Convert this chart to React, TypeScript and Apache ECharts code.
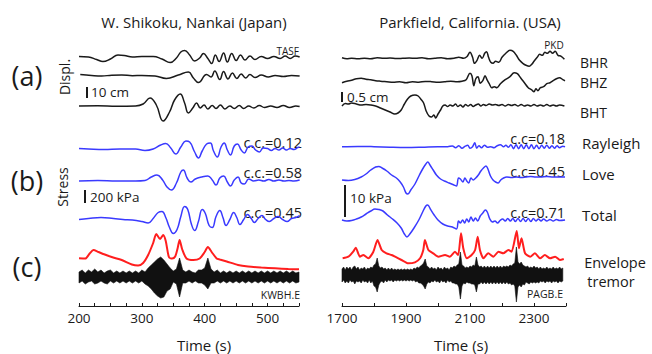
import React, { useEffect, useRef } from 'react';
import * as echarts from 'echarts';

type P = [number, number];

// ---------- axis ticks ----------
const leftTickLabels = [200, 300, 400, 500];
const rightTickLabels = [1700, 1900, 2100, 2300];

// ---------- W. Shikoku (left) : displacement ----------
const tasf: P[] = [[200,0.5],[215,0],[228,-2.5],[238,-4.5],[250,-2],[262,2],[272,1.5],[285,0],[300,0.5],[318,0.5],[332,-2],[345,-5.5],[355,-1],[362,5],[368,6.5],[376,2],[384,-4],[392,-1],[398,3.5],[405,-1.5],[411,-6.5],[417,2],[423,-4.5],[430,4],[436,-5],[443,3.5],[450,-3.5],[457,2],[464,-3],[472,1],[480,-2.5],[490,0.5],[500,-1.5],[510,0.5],[520,-1.5],[528,1],[536,-1.5],[544,1],[551,0]];
const shikokuA2: P[] = [[202,1.5],[220,0.5],[236,0],[252,0.8],[268,1],[285,0.3],[300,0.5],[321,0],[339,-2.5],[358,1],[374,4],[382,-2],[390,-6.5],[403,1.5],[410,-1],[416,5],[424,-3.5],[430,4.5],[437,-3],[444,3],[451,-2.5],[458,2],[465,-2],[472,1.5],[480,-1.5],[490,1],[501,-1],[512,0.5],[525,-0.5],[538,0.5],[551,0]];
const shikokuA3: P[] = [[200,0],[230,0.3],[260,-0.3],[290,0],[302,2],[313,8],[323,1],[334,-15],[344,-6],[352,6],[361,12],[368,3],[374,-7],[381,-2],[387,3],[393,-2],[399,1],[405,-3],[412,0.5],[418,-2.5],[425,1],[432,-3],[440,0],[447,-2.5],[455,0.5],[462,-2.5],[470,0],[478,-2],[487,0.5],[495,-1.5],[505,0],[515,-1.5],[525,0.5],[535,-1.5],[545,0],[551,-0.5]];

// ---------- W. Shikoku : stress ----------
const shikokuRayleigh: P[] = [[200,0.5],[215,0],[240,-0.5],[265,0],[290,0],[305,-1.5],[318,0],[330,4],[338,5.5],[346,1],[354,-5],[362,2],[370,8],[376,7],[384,-3],[390,-9],[396,-2],[403,5],[409,6],[414,-2],[420,-8],[426,2],[431,6],[436,-1],[441,-6],[447,3],[452,5],[458,-1],[463,-4],[469,2],[475,3],[481,-1],[487,-3],[493,1],[500,0.5],[506,-1.5],[512,0.5],[518,-1],[524,1],[530,-1],[536,0.5],[542,-0.5],[548,1.5],[551,2]];
const shikokuLove: P[] = [[200,0],[230,0.5],[260,0],[290,0],[305,0.5],[315,4],[324,6],[333,1],[340,-6],[347,-9],[355,-2],[362,9],[366,11],[372,3],[378,-1],[385,2],[395,4],[405,5],[412,1],[418,-4],[424,3],[430,5],[436,-1],[441,-5],[447,1],[453,4],[458,-2],[463,-3],[470,2],[478,0],[486,1],[494,0],[502,1.5],[510,0],[518,1],[526,0],[534,0.5],[542,0],[551,1]];
const shikokuTotal: P[] = [[200,0],[215,1],[235,2],[255,1],[270,0],[285,-0.5],[300,-2],[310,-3.5],[318,1],[326,7],[332,8],[338,2],[344,-8],[350,-14],[356,-10],[362,3],[368,13],[373,10],[379,-5],[384,-11],[390,-2],[396,10],[401,6],[407,-6],[412,-8],[418,3],[424,9],[429,2],[434,-6],[440,0],[446,7],[451,2],[456,-5],[462,0],[468,5],[474,1],[479,-3],[485,1],[491,4],[497,0],[503,-2],[510,1],[517,3],[524,0],[531,-2],[538,1],[545,2],[551,4]];

// ---------- W. Shikoku : envelope & tremor ----------
const shikokuEnvelope: P[] = [[200,11.7],[210,11.5],[217,16.5],[223,20],[231,18],[241,15.5],[252,13],[268,10],[284,5.5],[294,4.5],[302,7],[310,15],[318,27],[323,36],[329,31],[334,35],[338,29],[343,13],[348,11.5],[353,13.5],[357,22],[360,30],[364,21],[371,11.5],[382,10],[392,11.5],[400,18],[405,23],[411,18],[419,11.5],[424,10.5],[435,8.5],[453,5],[469,3.5],[490,2.5],[512,1.7],[533,1],[550,0.7]];
// [time, half-width above, half-width below]
const shikokuTremor: [number, number, number][] = [[200,5,6],[205,7,4],[210,4,7],[215,7,5],[220,5,4],[225,8,7],[230,5,6],[235,7,4],[240,4,6],[245,6,7],[250,7,4],[255,4,6],[260,6,4],[265,4,6],[270,6,4],[275,4,6],[280,6,4],[285,4,6],[290,6,4],[295,4,6],[300,7,4],[305,5,7],[310,9,9],[315,12,12],[320,15,16],[325,18,19],[330,20,21],[335,17,20],[340,13,14],[345,9,12],[350,6,5],[355,8,7],[360,19,20],[365,7,6],[370,5,6],[375,7,4],[380,5,6],[385,4,4],[390,7,6],[395,7,6],[400,9,8],[405,19,12],[410,8,6],[415,5,6],[420,7,4],[425,4,6],[430,6,4],[435,4,6],[440,6,4],[445,4,6],[450,6,4],[455,4,6],[460,6,4],[465,4,6],[470,6,4],[475,4,6],[480,6,4],[485,4,6],[490,6,4],[495,4,6],[500,6,4],[505,4,6],[510,6,4],[515,4,6],[520,6,4],[525,4,6],[530,6,4],[535,4,6],[540,6,4],[545,4,6],[550,5,5]];

// ---------- Parkfield (right) : displacement ----------
const bhr: P[] = [[1700,0.5],[1715,-0.5],[1730,0],[1750,-0.5],[1770,0],[1790,-0.5],[1810,0.5],[1830,0],[1850,0.3],[1870,-0.3],[1890,0],[1910,0.3],[1930,0],[1950,0.5],[1970,-0.5],[1990,0],[2010,0.5],[2030,-0.5],[2050,0],[2065,1],[2080,0],[2090,1.5],[2100,6],[2108,1],[2114,-5],[2122,-2],[2130,3],[2138,0],[2146,5],[2152,6.5],[2158,1],[2165,-4],[2172,-5],[2180,-3],[2190,-4],[2200,1],[2212,5],[2225,8],[2235,7],[2245,3],[2255,-2],[2265,-5],[2275,-7],[2285,-8],[2293,-6],[2300,-3],[2310,1],[2318,4],[2326,3],[2334,6],[2342,5],[2350,7],[2358,5],[2366,7],[2375,3],[2385,2],[2395,-1]];
const bhz: P[] = [[1700,-1],[1715,0.5],[1730,1.5],[1745,3],[1760,3.5],[1775,2.5],[1790,2],[1805,1],[1820,0.5],[1840,0],[1860,-0.5],[1880,0],[1900,-1],[1920,0],[1940,-0.5],[1960,0.3],[1980,0],[2000,-0.5],[2020,0],[2040,0.5],[2060,0],[2075,0.5],[2088,2],[2100,8.5],[2106,6],[2112,-4],[2118,3],[2125,5],[2132,-1.5],[2140,1],[2147,6],[2153,2],[2160,-2],[2168,-6],[2176,-5],[2184,-6],[2195,-2],[2210,2],[2225,5],[2238,9],[2248,8],[2258,4],[2270,-1],[2282,-6],[2292,-8],[2300,-10],[2306,-7],[2312,-9],[2320,-6],[2330,-5],[2340,-2],[2350,-1],[2360,1],[2370,3],[2380,4],[2390,2],[2397,1]];
const bht: P[] = [[1700,-1],[1710,1.5],[1720,1],[1730,2],[1745,1],[1760,0],[1775,0.5],[1790,0],[1805,-1],[1820,-3],[1835,-5],[1850,-7],[1865,-9],[1875,-8],[1885,-5],[1895,1],[1905,6],[1915,9],[1928,10],[1938,9],[1946,6],[1955,2],[1963,-6],[1972,-11],[1980,-12],[1987,-10],[1993,-13],[2000,-9],[2008,-5],[2015,-1],[2022,0],[2030,-1.5],[2038,0],[2046,-1],[2055,1],[2062,-1.5],[2070,0],[2078,-2],[2086,0.5],[2094,-1],[2102,0.5],[2110,-1.5],[2118,0],[2126,1],[2134,-1],[2142,0.5],[2150,-0.5],[2160,1],[2170,0],[2180,0.5],[2190,-0.5],[2200,0.5],[2210,-1],[2220,0.5],[2230,-0.5],[2240,0.5],[2250,-1],[2260,0.5],[2270,-1],[2280,0],[2290,-1],[2300,0.5],[2310,-1],[2320,0],[2330,-1],[2340,0.5],[2350,-1],[2360,0],[2370,-1],[2380,0],[2395,-1]];

// ---------- Parkfield : stress ----------
const parkRayleigh: P[] = [[1700,0],[1750,0.3],[1800,0],[1850,-0.5],[1900,-0.8],[1950,-0.5],[2000,0],[2030,0],[2045,0.8],[2055,-1],[2065,1],[2075,-1.5],[2085,0.5],[2093,1.5],[2100,-1.5],[2108,0],[2115,4],[2121,-1.5],[2128,1],[2136,-1],[2145,1.5],[2155,-0.5],[2165,0],[2175,-1],[2185,1],[2195,2],[2205,0],[2212,1.5],[2220,-0.5],[2228,2],[2236,-2],[2244,2],[2252,-2],[2260,2],[2268,-2],[2276,2],[2284,-2],[2292,2],[2300,-2],[2308,1.5],[2316,-2],[2324,1.5],[2332,-1.5],[2340,1.5],[2348,-1.5],[2356,1],[2364,-1.5],[2372,1],[2380,-1],[2390,0.5],[2397,0]];
const parkLove: P[] = [[1700,-3],[1720,-3.5],[1740,-2.5],[1760,0],[1775,3],[1790,7],[1805,10],[1815,10.5],[1825,9],[1840,6],[1855,2],[1870,-1],[1882,-5],[1892,-10],[1900,-16],[1906,-17],[1915,-13],[1928,-7],[1942,2],[1952,8],[1962,13],[1968,15],[1975,12],[1985,7],[1995,2],[2008,-2],[2020,-4],[2035,-6],[2050,-8],[2058,-9],[2064,-1],[2070,-2],[2078,-5],[2084,-1],[2090,-4],[2096,-6],[2103,-1],[2110,-3],[2118,-1],[2126,2],[2134,6],[2142,9],[2150,11],[2156,8],[2164,1],[2172,-3],[2180,-5],[2188,-6],[2196,-3],[2205,-1],[2215,0],[2230,-0.5],[2245,0],[2260,-0.5],[2275,0],[2290,0.5],[2305,0],[2320,0],[2340,0.5],[2360,0],[2380,0],[2397,0]];
const parkTotal: P[] = [[1700,0],[1715,-1],[1730,-0.5],[1745,1],[1760,3],[1775,6],[1790,9],[1803,11],[1815,10.5],[1828,9],[1842,5],[1858,1],[1872,-3],[1885,-8],[1895,-14],[1903,-17],[1912,-14],[1925,-8],[1940,0],[1952,8],[1962,14],[1968,15],[1976,11],[1988,5],[2000,0],[2015,-4],[2030,-6],[2045,-7],[2058,-9],[2064,-1],[2070,-3],[2077,0],[2083,-3],[2090,1],[2096,-2],[2103,3],[2110,-1],[2117,2],[2124,-1],[2132,4],[2140,7],[2148,10],[2154,8],[2162,1],[2170,-2],[2178,-1],[2186,-3],[2194,-0.5],[2202,1],[2210,-1],[2218,1.5],[2226,-1],[2234,1.5],[2242,-1.5],[2250,1.5],[2258,-1.5],[2266,1.5],[2274,-1.5],[2282,1.5],[2290,-1.5],[2298,1.5],[2306,-1],[2314,1],[2322,-1],[2330,1],[2340,-1],[2350,0.5],[2360,-1],[2370,0.5],[2380,-0.5],[2397,0]];

// ---------- Parkfield : envelope & tremor ----------
const parkEnvelope: P[] = [[1702,6.7],[1720,8.3],[1735,13.3],[1743,17.3],[1756,8.3],[1767,10],[1782,6.7],[1798,13.3],[1811,25],[1824,15],[1839,11.7],[1855,10],[1866,8.3],[1886,5],[1907,1.7],[1928,2.7],[1944,6.7],[1954,15],[1959,25],[1970,15],[1985,11.7],[2001,8.3],[2022,10],[2037,8.3],[2053,13.3],[2063,10],[2072,31.7],[2079,16.7],[2090,6.7],[2105,10],[2116,15],[2124,28.3],[2131,15],[2142,6.7],[2157,11.7],[2173,8.3],[2189,13.3],[2204,11.7],[2220,15],[2230,13.3],[2246,34],[2253,16.7],[2261,26.7],[2272,11.7],[2288,8.3],[2303,11.7],[2319,6.7],[2334,10],[2350,6.7],[2366,8.3],[2381,5],[2393,6]];
const parkTremor: [number, number, number][] = [[1700,6,7],[1705,8,5],[1710,5,8],[1715,8,6],[1720,6,8],[1725,8,5],[1730,5,7],[1735,8,6],[1740,9,9],[1745,6,6],[1750,8,7],[1755,5,6],[1760,7,8],[1765,6,5],[1770,8,7],[1775,5,6],[1780,7,8],[1785,6,5],[1790,8,8],[1795,7,6],[1800,10,11],[1805,11,12],[1810,17,17],[1815,9,10],[1820,7,7],[1825,8,6],[1830,6,8],[1835,7,5],[1840,5,7],[1845,7,5],[1850,5,6],[1855,7,5],[1860,5,7],[1865,6,5],[1870,5,6],[1875,6,5],[1880,5,6],[1885,6,5],[1890,5,6],[1895,6,5],[1900,5,6],[1905,6,5],[1910,5,6],[1915,6,5],[1920,5,6],[1925,7,5],[1930,6,7],[1935,8,6],[1940,7,8],[1945,9,8],[1950,10,9],[1955,12,11],[1960,16,14],[1965,9,9],[1970,8,7],[1975,6,8],[1980,8,6],[1985,6,7],[1990,7,5],[1995,5,7],[2000,8,6],[2005,6,8],[2010,7,5],[2015,5,7],[2020,8,6],[2025,6,8],[2030,7,5],[2035,5,7],[2040,8,6],[2045,7,8],[2050,9,8],[2055,8,9],[2060,10,9],[2065,11,12],[2070,23,24],[2075,10,11],[2080,9,8],[2085,7,9],[2090,8,7],[2095,7,8],[2100,9,8],[2105,8,9],[2110,10,9],[2115,9,10],[2120,18,17],[2125,10,9],[2130,8,9],[2135,9,7],[2140,7,9],[2145,9,7],[2150,7,9],[2155,9,7],[2160,7,9],[2165,9,7],[2170,7,9],[2175,9,7],[2180,7,9],[2185,9,7],[2190,7,9],[2195,9,7],[2200,7,9],[2205,9,7],[2210,8,9],[2215,9,7],[2220,8,9],[2225,10,8],[2230,9,10],[2235,11,9],[2240,12,11],[2245,28,27],[2250,13,12],[2255,11,10],[2260,13,12],[2265,10,9],[2270,9,10],[2275,8,7],[2280,9,8],[2285,7,9],[2290,8,7],[2295,7,8],[2300,9,7],[2305,7,8],[2310,8,7],[2315,6,8],[2320,8,6],[2325,6,7],[2330,7,6],[2335,6,8],[2340,8,6],[2345,6,7],[2350,7,6],[2355,6,8],[2360,8,6],[2365,6,7],[2370,7,6],[2375,6,8],[2380,8,6],[2385,6,7],[2390,7,6]];

// ---------- layout (vertical offsets of each trace, in grid units) ----------
const OFF_L = { a1: 249, a2: 230, a3: 200, b1: 157, b2: 125, b3: 86.5, env: 36, trem: 29 };
const OFF_R = { a1: 247.7, a2: 224.3, a3: 201, b1: 159.3, b2: 129, b3: 86, env: 41, trem: 31 };

const FONT = '"Open Sans", "DejaVu Sans", sans-serif';
const INK = '#1a1a1a';
const BLUE = '#3a3aff';
const RED = '#ff1e1e';

const shift = (d: P[], off: number): P[] => d.map(([t, v]) => [t, v + off]);

function trace(data: P[], off: number, color: string, idx: number, width = 1.5, smooth: number = 0.45) {
  return {
    type: 'line',
    xAxisIndex: idx,
    yAxisIndex: idx,
    data: shift(data, off),
    showSymbol: false,
    symbol: 'none',
    smooth,
    silent: true,
    lineStyle: { color, width },
  };
}

function band(data: [number, number, number][], off: number, idx: number) {
  return {
    type: 'custom',
    xAxisIndex: idx,
    yAxisIndex: idx,
    silent: true,
    data: [[data[0][0], off]],
    renderItem: (_p: any, api: any) => {
      const top = data.map(([t, u]) => api.coord([t, off + u]));
      const bot = data.slice().reverse().map(([t, , d]) => api.coord([t, off - d]));
      return {
        type: 'polygon',
        shape: { points: top.concat(bot) },
        style: { fill: '#111', stroke: '#111', lineWidth: 0.6 },
      };
    },
  };
}

function txt(text: string, x: number, y: number, size: number, align = 'left', extra: any = {}) {
  return {
    type: 'text',
    x,
    y,
    silent: true,
    ...extra,
    style: {
      text,
      fill: INK,
      font: `${size}px ${FONT}`,
      align,
      verticalAlign: 'middle',
      textAlign: align,
      textVerticalAlign: 'middle',
    },
  };
}

function bar(x: number, y1: number, y2: number) {
  return { type: 'line', silent: true, shape: { x1: x, y1, x2: x, y2 }, style: { stroke: INK, lineWidth: 2 } };
}

function xAxisOf(gridIndex: number, min: number, max: number, interval: number, labels: number[]) {
  return {
    type: 'value',
    gridIndex,
    min,
    max,
    interval,
    axisLine: { show: true, onZero: false, lineStyle: { color: INK, width: 1 } },
    axisTick: { show: true, inside: true, length: 3, lineStyle: { color: INK, width: 1 } },
    axisLabel: {
      show: true,
      margin: 5,
      color: INK,
      fontFamily: FONT,
      fontSize: 13.5,
      formatter: (v: number) => (labels.includes(v) ? String(v) : ''),
    },
    splitLine: { show: false },
  };
}

const option: any = {
  animation: false,
  backgroundColor: '#ffffff',
  grid: [
    { left: 79, top: 30, width: 220, height: 276 },
    { left: 342, top: 30, width: 224, height: 276 },
  ],
  xAxis: [
    xAxisOf(0, 200, 550, 25, leftTickLabels),
    xAxisOf(1, 1700, 2400, 100, rightTickLabels),
  ],
  yAxis: [
    { type: 'value', gridIndex: 0, min: 0, max: 276, show: false },
    { type: 'value', gridIndex: 1, min: 0, max: 276, show: false },
  ],
  series: [
    trace(tasf, OFF_L.a1, INK, 0),
    trace(shikokuA2, OFF_L.a2, INK, 0),
    trace(shikokuA3, OFF_L.a3, INK, 0),
    trace(shikokuRayleigh, OFF_L.b1, BLUE, 0),
    trace(shikokuLove, OFF_L.b2, BLUE, 0),
    trace(shikokuTotal, OFF_L.b3, BLUE, 0),
    band(shikokuTremor, OFF_L.trem, 0),
    trace(shikokuEnvelope, OFF_L.env, RED, 0, 2, 0.25),
    trace(bhr, OFF_R.a1, INK, 1, 1.5, 0.35),
    trace(bhz, OFF_R.a2, INK, 1, 1.5, 0.35),
    trace(bht, OFF_R.a3, INK, 1, 1.5, 0.35),
    trace(parkRayleigh, OFF_R.b1, BLUE, 1, 1.5, 0.35),
    trace(parkLove, OFF_R.b2, BLUE, 1, 1.5, 0.35),
    trace(parkTotal, OFF_R.b3, BLUE, 1, 1.5, 0.35),
    band(parkTremor, OFF_R.trem, 1),
    trace(parkEnvelope, OFF_R.env, RED, 1, 2, 0.2),
  ],
  graphic: [
    txt('W. Shikoku, Nankai (Japan)', 194, 22, 15, 'center'),
    txt('Parkfield, California. (USA)', 470, 22, 15, 'center'),
    txt('(a)', 27, 75, 27, 'center'),
    txt('(b)', 27, 180, 27, 'center'),
    txt('(c)', 27, 266, 27, 'center'),
    txt('Displ.', 64, 77, 14, 'center', { rotation: Math.PI / 2 }),
    txt('Stress', 62, 187, 14, 'center', { rotation: Math.PI / 2 }),
    txt('TASF', 299, 51, 10, 'right'),
    bar(87, 87, 98),
    txt('10 cm', 91, 92, 13.5, 'left'),
    bar(85, 190, 203),
    txt('200 kPa', 90, 197, 13.5, 'left'),
    txt('c.c.=0.12', 302, 142, 14.5, 'right'),
    txt('c.c.=0.58', 302, 172, 14.5, 'right'),
    txt('c.c.=0.45', 302, 212, 14.5, 'right'),
    txt('KWBH.E', 300, 295, 10.5, 'right'),
    txt('PKD', 554, 45, 10, 'center'),
    bar(342, 92, 102),
    txt('0.5 cm', 347, 97, 13.5, 'left'),
    bar(345, 185, 217),
    txt('10 kPa', 350, 198, 13.5, 'left'),
    txt('c.c=0.18', 565, 138, 14.5, 'right'),
    txt('c.c=0.45', 565, 171, 14.5, 'right'),
    txt('c.c=0.71', 565, 212, 14.5, 'right'),
    txt('PAGB.E', 563, 294, 10.5, 'right'),
    txt('BHR', 580, 62, 14, 'left'),
    txt('BHZ', 580, 82, 14, 'left'),
    txt('BHT', 580, 112, 14, 'left'),
    txt('Rayleigh', 582, 143, 15, 'left'),
    txt('Love', 582, 174, 15, 'left'),
    txt('Total', 582, 215, 15, 'left'),
    txt('Envelope', 615, 262, 14.5, 'center'),
    txt('tremor', 611, 281, 14.5, 'center'),
    txt('Time (s)', 204, 345, 15, 'center'),
    txt('Time (s)', 461, 345, 15, 'center'),
  ],
};

export default function App() {
  const ref = useRef<HTMLDivElement>(null);
  useEffect(() => {
    if (!ref.current) return;
    const chart = echarts.init(ref.current, null, { renderer: 'svg' });
    chart.setOption(option);
    return () => chart.dispose();
  }, []);
  return (
    <div
      ref={ref}
      style={{ position: 'fixed', left: 0, top: 0, width: 652, height: 354, background: '#fff' }}
    />
  );
}
